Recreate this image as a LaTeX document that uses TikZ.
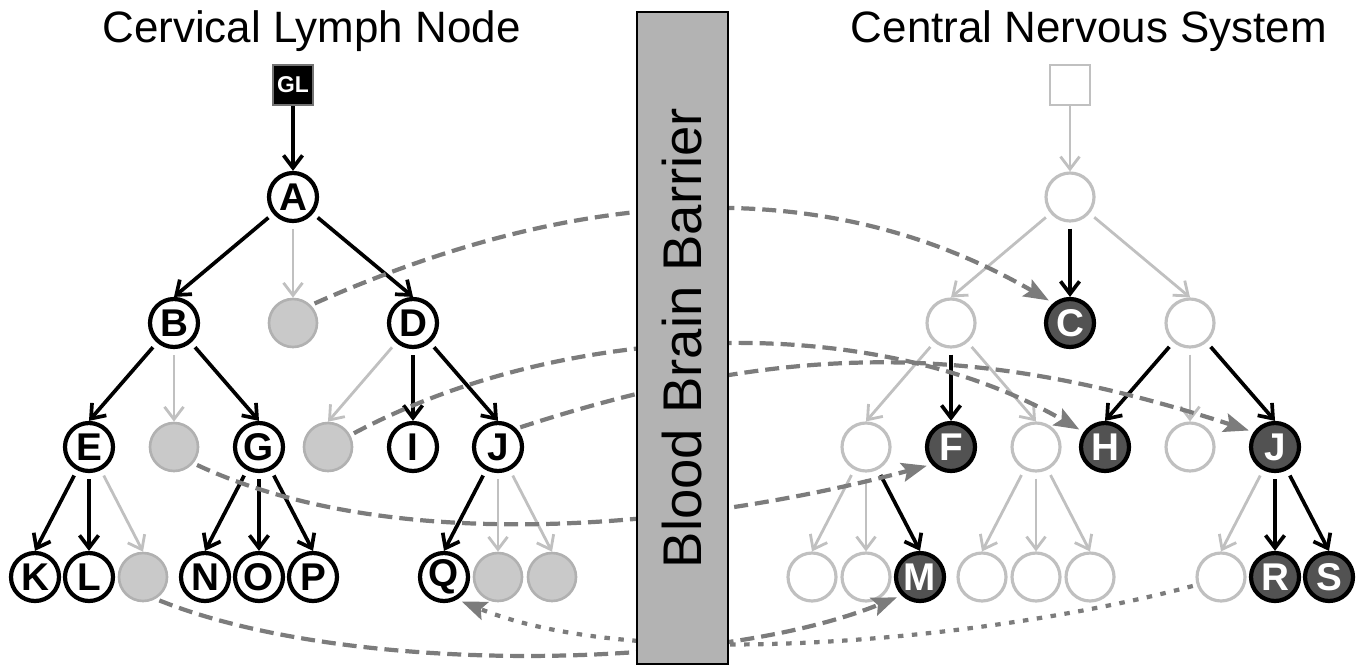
\documentclass[tikz,border=0pt]{standalone}
\usepackage{fontspec}
\setmainfont{Liberation Sans}
\usetikzlibrary{arrows.meta}
\definecolor{fadedgray}{HTML}{C0C0C0}
\definecolor{absentgray}{HTML}{C9C9C9}
\definecolor{clonegray}{HTML}{525252}
\definecolor{pathgray}{HTML}{7C7C7C}
\definecolor{barriergray}{HTML}{B3B3B3}
\tikzset{
  cell/.style={circle, minimum size=0.96cm, inner sep=0pt, line width=2.4pt,
    font=\fontsize{22}{22}\selectfont\bfseries},
  present/.style={cell, draw=black, fill=white},
  absent/.style={cell, draw=absentgray!88!black, fill=absentgray, line width=1.5pt},
  faint/.style={cell, draw=fadedgray, fill=white, line width=1.8pt},
  clone/.style={cell, draw=black, fill=clonegray, text=white},
  link/.style={line width=2.1pt, -{Straight Barb[length=2.5mm,width=3.8mm]}, shorten <=0.12cm},
  fadedlink/.style={link, draw=fadedgray, line width=1.6pt},
  migrate/.style={draw=pathgray, line width=2.4pt, dash pattern=on 0.28cm off 0.14cm,
    -{Stealth[length=5mm,width=3.8mm,inset=0.9mm]}, shorten <=0.08cm, shorten >=0.1cm},
  reenter/.style={migrate, dash pattern=on 0.11cm off 0.17cm},
  title/.style={font=\fontsize{25}{30}\selectfont, anchor=base},
}

\begin{document}
\begin{tikzpicture}
  \useasboundingbox (0,0) rectangle (27.26,13.38);

  \node[title] (lntitle) at (6.23,12.54) {Cervical Lymph Node};
  \node[title] (cnstitle) at (21.78,12.54) {Central Nervous System};

  % lymph node tree
  \node[draw=black!55, fill=black, line width=1.2pt, minimum size=0.8cm, inner sep=0pt,
    text=white, font=\fontsize{13}{13}\selectfont\bfseries] (GL) at (5.86,11.68) {GL};
  \node[present] (A) at (5.86,9.44) {A};
  \node[present] (B) at (3.48,6.92) {B};
  \node[absent] (nC) at (5.86,6.92) {};
  \node[present] (D) at (8.26,6.92) {D};
  \node[present] (E) at (1.78,4.44) {E};
  \node[absent] (nF) at (3.48,4.44) {};
  \node[present] (G) at (5.18,4.44) {G};
  \node[absent] (nH) at (6.56,4.44) {};
  \node[present] (I) at (8.26,4.44) {I};
  \node[present] (J) at (9.96,4.44) {J};
  \node[present] (K) at (0.70,1.84) {K};
  \node[present] (L) at (1.78,1.84) {L};
  \node[absent] (nM) at (2.86,1.84) {};
  \node[present] (N) at (4.10,1.84) {N};
  \node[present] (O) at (5.18,1.84) {O};
  \node[present] (P) at (6.26,1.84) {P};
  \node[present] (Q) at (8.88,1.84) {Q};
  \node[absent] (nR) at (9.96,1.84) {};
  \node[absent] (nS) at (11.04,1.84) {};

  \draw[link, shorten <=0pt] (GL) -- (A.north);
  \draw[link] (A) -- (B.north);
  \draw[fadedlink] (A) -- (nC.north);
  \draw[link] (A) -- (D.north);
  \draw[link] (B) -- (E.north);
  \draw[fadedlink] (B) -- (nF.north);
  \draw[link] (B) -- (G.north);
  \draw[fadedlink] (D) -- (nH.north);
  \draw[link] (D) -- (I.north);
  \draw[link] (D) -- (J.north);
  \draw[link] (E) -- (K.north);
  \draw[link] (E) -- (L.north);
  \draw[fadedlink] (E) -- (nM.north);
  \draw[link] (G) -- (N.north);
  \draw[link] (G) -- (O.north);
  \draw[link] (G) -- (P.north);
  \draw[link] (J) -- (Q.north);
  \draw[fadedlink] (J) -- (nR.north);
  \draw[fadedlink] (J) -- (nS.north);

  % same tree on the CNS side
  \begin{scope}[xshift=15.54cm]
    \node[draw=fadedgray, fill=white, line width=1.5pt, minimum size=0.8cm] (box) at (5.86,11.68) {};
    \node[faint] (cA) at (5.86,9.44) {};
    \node[faint] (cB) at (3.48,6.92) {};
    \node[clone] (C) at (5.86,6.92) {C};
    \node[faint] (cD) at (8.26,6.92) {};
    \node[faint] (cE) at (1.78,4.44) {};
    \node[clone] (F) at (3.48,4.44) {F};
    \node[faint] (cG) at (5.18,4.44) {};
    \node[clone] (H) at (6.56,4.44) {H};
    \node[faint] (cI) at (8.26,4.44) {};
    \node[clone] (cJ) at (9.96,4.44) {J};
    \node[faint] (cK) at (0.70,1.84) {};
    \node[faint] (cL) at (1.78,1.84) {};
    \node[clone] (M) at (2.86,1.84) {M};
    \node[faint] (cN) at (4.10,1.84) {};
    \node[faint] (cO) at (5.18,1.84) {};
    \node[faint] (cP) at (6.26,1.84) {};
    \node[faint] (cQ) at (8.88,1.84) {};
    \node[clone] (R) at (9.96,1.84) {R};
    \node[clone] (S) at (11.04,1.84) {S};
  \end{scope}

  \draw[fadedlink, shorten <=0pt] (box) -- (cA.north);
  \draw[fadedlink] (cA) -- (cB.north);
  \draw[link] (cA) -- (C.north);
  \draw[fadedlink] (cA) -- (cD.north);
  \draw[fadedlink] (cB) -- (cE.north);
  \draw[link] (cB) -- (F.north);
  \draw[fadedlink] (cB) -- (cG.north);
  \draw[link] (cD) -- (H.north);
  \draw[fadedlink] (cD) -- (cI.north);
  \draw[link] (cD) -- (cJ.north);
  \draw[fadedlink] (cE) -- (cK.north);
  \draw[fadedlink] (cE) -- (cL.north);
  \draw[link] (cE) -- (M.north);
  \draw[fadedlink] (cG) -- (cN.north);
  \draw[fadedlink] (cG) -- (cO.north);
  \draw[fadedlink] (cG) -- (cP.north);
  \draw[fadedlink] (cJ) -- (cQ.north);
  \draw[link] (cJ) -- (R.north);
  \draw[link] (cJ) -- (S.north);

  % crossings through the barrier
  \draw[migrate] (nC.45) to[out=24, in=150, looseness=0.95] (C.130);
  \draw[migrate] (nF.-40) to[out=-25, in=-165, looseness=0.8] (F.222);
  \draw[migrate] (nH.28) to[out=28, in=150, looseness=0.85] (H.145);
  \draw[migrate] (J.45) to[out=18, in=162] (cJ.145);
  \draw[migrate] (nM.-60) to[out=-22, in=-158, looseness=0.7] (M.225);
  \draw[reenter] (cQ.198) to[out=195, in=-22, looseness=0.7] (Q.-60);

  \node[draw=black, fill=barriergray, line width=1.4pt, rotate=90,
    minimum width=13.04cm, minimum height=1.82cm, inner sep=0pt,
    font=\fontsize{31}{31}\selectfont] (bbb) at (13.65,6.62) {Blood Brain Barrier};
\end{tikzpicture}
\end{document}
